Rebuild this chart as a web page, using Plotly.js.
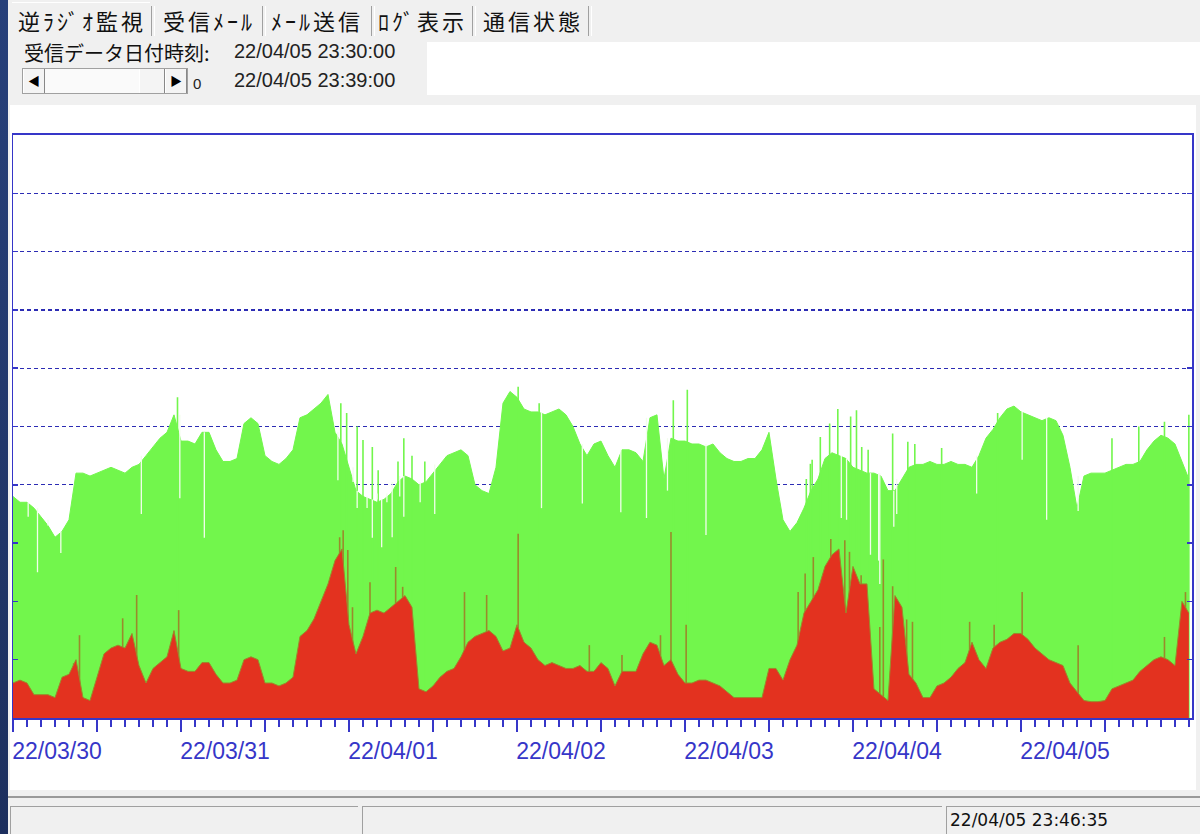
<!DOCTYPE html>
<html><head><meta charset="utf-8">
<script src="https://cdn.plot.ly/plotly-3.0.1.min.js"></script>
<style>
html,body{margin:0;padding:0;}
body{width:1200px;height:834px;overflow:hidden;background:#f0f0f0;position:relative;font-family:"Noto Sans CJK JP","Noto Sans",sans-serif;color:#111;}
.abs{position:absolute;white-space:nowrap;}
#leftstrip{left:0;top:0;width:8px;height:834px;background:linear-gradient(#27407a,#1c2f5e);}
.tab{position:absolute;top:4px;font-size:22px;letter-spacing:3px;line-height:32px;}
.sep{position:absolute;top:6px;width:2px;height:30px;border-left:1px solid #a0a0a0;border-right:1px solid #fff;}
#tabsel{left:12px;top:2px;width:138px;height:36px;background:#f0f0f0;border-top:1px solid #fff;}
.lbl{font-size:20px;}
.tm{font-size:20px;font-family:"Liberation Sans",Arial,sans-serif;color:#222;}
#whitebox{left:427px;top:42px;width:773px;height:53px;background:#fff;}
#scroll{left:22px;top:68px;width:166px;height:26px;background:#fafafa;border:1px solid #a0a0a0;box-sizing:border-box;}
.sbtn{position:absolute;top:0;width:22px;height:24px;background:#f4f4f4;border-left:1px solid #fff;border-right:1px solid #888;box-sizing:border-box;font-size:12px;text-align:center;line-height:24px;color:#000;}
#panel{left:10px;top:105px;width:1186px;height:685px;background:#fff;}
#chart{left:10px;top:105px;width:1186px;height:685px;}
.sb{position:absolute;top:806px;height:30px;border-top:1px solid #a0a0a0;border-left:1px solid #a0a0a0;background:#f0f0f0;box-sizing:border-box;}
</style></head>
<body>
<div id="leftstrip" class="abs"></div>
<div id="tabsel" class="abs"></div>
<div class="tab" style="left:18px;">逆ﾗｼﾞｵ監視</div>
<div class="sep" style="left:151px;"></div>
<div class="tab" style="left:163px;">受信ﾒｰﾙ</div>
<div class="sep" style="left:262px;"></div>
<div class="tab" style="left:271px;">ﾒｰﾙ送信</div>
<div class="sep" style="left:371px;"></div>
<div class="tab" style="left:378px;">ﾛｸﾞ表示</div>
<div class="sep" style="left:472px;"></div>
<div class="tab" style="left:483px;">通信状態</div>
<div class="sep" style="left:588px;"></div>
<div class="abs lbl" style="left:24px;top:38px;">受信データ日付時刻:</div>
<div class="abs tm" style="left:234px;top:40px;">22/04/05 23:30:00</div>
<div id="whitebox" class="abs"></div>
<div id="scroll" class="abs">
  <div class="sbtn" style="left:0;">&#9664;</div>
  <div class="sbtn" style="left:116px;width:26px;border-left:1px solid #fff;"></div>
  <div class="sbtn" style="left:142px;">&#9654;</div>
</div>
<div class="abs tm" style="left:193px;top:75px;font-size:15px;">0</div>
<div class="abs tm" style="left:234px;top:69px;">22/04/05 23:39:00</div>
<div id="panel" class="abs"></div>
<div id="chart" class="abs"></div>
<div class="abs" style="left:8px;top:796px;width:1192px;height:3px;border-top:2px solid #9a9a9a;"></div>
<div class="sb" style="left:10px;width:348px;"></div>
<div class="sb" style="left:362px;width:580px;"></div>
<div class="sb" style="left:946px;width:254px;"></div>
<div class="abs" style="left:950px;top:810px;font-size:17px;font-family:'DejaVu Sans',sans-serif;color:#111;">22/04/05 23:46:35</div>
<script>
// ---- data (hourly readings) ----
var days = ['2022-03-30','2022-03-31','2022-04-01','2022-04-02','2022-04-03','2022-04-04','2022-04-05'];
var dayLabels = ['22/03/30','22/03/31','22/04/01','22/04/02','22/04/03','22/04/04','22/04/05'];

// total (green top) per hour
var totalMar30 = [3.8,3.7,3.7,3.6,3.45,3.3,3.1,3.2,3.4,4.2,4.2,4.15,4.2,4.25,4.3,4.25,4.2,4.3,4.35,4.5,4.65,4.8,4.9,5.2];
var totalMar31 = [4.75,4.75,4.7,4.9,4.9,4.6,4.4,4.4,4.45,5.05,5.15,5.05,4.5,4.4,4.35,4.45,4.6,5.15,5.2,5.3,5.4,5.55,4.9,4.7];
var totalApr01 = [4.3,3.9,3.8,3.75,3.7,3.75,3.85,4.05,4.15,4.1,4.0,4.05,4.2,4.35,4.5,4.55,4.6,4.5,4.0,3.9,3.85,4.3,5.4,5.6];
var totalApr02 = [5.5,5.3,5.25,5.25,5.2,5.25,5.3,5.2,5.0,4.7,4.5,4.7,4.75,4.5,4.3,4.6,4.6,4.55,4.4,5.15,5.2,4.1,4.8,4.75];
var totalApr03 = [4.75,4.7,4.7,4.65,4.7,4.55,4.45,4.4,4.4,4.45,4.45,4.6,4.9,4.1,3.4,3.2,3.35,3.6,3.9,4.1,4.45,4.55,4.5,4.45];
var totalApr04 = [4.3,4.25,4.2,4.2,4.15,3.9,3.9,4.1,4.3,4.35,4.35,4.4,4.35,4.35,4.4,4.35,4.35,4.3,4.5,4.8,4.95,5.15,5.3,5.35];
var totalApr05 = [5.25,5.2,5.15,5.1,5.15,5.1,4.85,4.3,3.6,4.15,4.2,4.2,4.2,4.25,4.3,4.35,4.35,4.4,4.6,4.75,4.85,4.8,4.7,4.4];

// red part per hour
var redMar30 = [0.6,0.65,0.6,0.4,0.4,0.4,0.35,0.7,0.75,1.0,0.35,0.3,0.7,1.1,1.2,1.25,1.2,1.45,0.9,0.6,0.85,0.95,1.05,1.5];
var redMar31 = [0.85,0.8,0.8,0.95,0.95,0.75,0.6,0.6,0.65,1.0,1.05,1.0,0.6,0.6,0.55,0.6,0.7,1.4,1.5,1.7,2.0,2.3,2.7,2.9];
var redApr01 = [1.6,1.1,1.4,1.8,1.85,1.8,1.9,2.0,2.1,1.9,0.5,0.45,0.55,0.7,0.8,0.85,1.05,1.3,1.4,1.45,1.5,1.4,1.15,1.2];
var redApr02 = [1.6,1.3,1.2,1.0,0.9,0.95,0.9,0.85,0.85,0.9,0.8,0.8,0.95,0.85,0.55,0.8,0.8,0.8,1.1,1.3,1.25,0.9,1.0,0.75];
var redApr03 = [0.6,0.6,0.65,0.65,0.6,0.55,0.45,0.35,0.35,0.35,0.35,0.35,0.85,0.85,0.65,1.0,1.25,1.8,2.0,2.2,2.6,2.8,2.9,1.8];
var redApr04 = [2.6,2.3,2.3,0.5,0.4,0.3,2.1,1.9,0.75,0.6,0.35,0.35,0.55,0.6,0.7,0.85,0.95,1.3,1.0,0.85,1.2,1.3,1.35,1.45];
var redApr05 = [1.45,1.35,1.2,1.1,1.0,0.95,0.9,0.6,0.45,0.3,0.28,0.28,0.3,0.5,0.55,0.6,0.65,0.8,0.9,1.0,1.05,1.0,0.9,2.0];

// last sample
var lastTime = '2022-04-05 23:59';
var lastTotal = 4.1;
var lastRed = 1.8;

// short single-sample peaks of the total
var totalPeakTimes = ['2022-03-30 23:30','2022-03-31 22:50','2022-03-31 23:40','2022-04-01 01:10','2022-04-01 02:00','2022-04-01 03:20','2022-04-01 04:10','2022-04-01 07:00','2022-04-01 07:50','2022-04-01 09:00','2022-04-01 10:50','2022-04-02 00:10','2022-04-02 03:10','2022-04-02 22:20','2022-04-03 00:20','2022-04-03 17:20','2022-04-03 17:55','2022-04-03 18:10','2022-04-03 19:20','2022-04-03 20:40','2022-04-03 21:50','2022-04-03 23:40','2022-04-04 00:30','2022-04-04 01:15','2022-04-04 02:10','2022-04-04 05:40','2022-04-04 07:50','2022-04-04 08:50','2022-04-04 12:40','2022-04-04 20:40','2022-04-05 13:00','2022-04-05 16:50','2022-04-05 20:30','2022-04-05 23:59'];
var totalPeakValues = [5.5,5.4,5.23,5.0,4.77,4.65,4.25,4.4,4.8,4.5,4.4,5.68,5.4,5.45,5.63,4.1,4.36,4.43,4.82,5.05,5.3,5.17,5.28,4.65,4.6,4.88,4.74,4.7,4.63,5.23,4.8,5.0,5.08,5.2];

// short single-sample drops of the total
var totalDropTimes = ['2022-03-30 02:10','2022-03-30 03:30','2022-03-30 05:00','2022-03-30 06:50','2022-03-30 18:20','2022-03-30 23:50','2022-03-31 03:20','2022-03-31 22:25','2022-04-01 00:35','2022-04-01 01:10','2022-04-01 02:35','2022-04-01 03:20','2022-04-01 04:00','2022-04-01 04:40','2022-04-01 05:25','2022-04-01 06:10','2022-04-01 07:15','2022-04-01 07:50','2022-04-01 10:10','2022-04-01 12:15','2022-04-02 03:30','2022-04-02 09:20','2022-04-02 14:50','2022-04-02 18:30','2022-04-02 21:30','2022-04-03 03:00','2022-04-03 22:20','2022-04-03 23:05','2022-04-04 02:30','2022-04-04 03:40','2022-04-04 03:50','2022-04-04 05:50','2022-04-04 06:15','2022-04-04 17:40','2022-04-05 00:10','2022-04-05 03:40','2022-04-05 08:10'];
var totalDropValues = [3.45,2.5,3.4,2.83,3.5,3.77,3.09,4.08,4.05,3.6,3.6,3.09,3.85,2.93,3.7,3.1,3.8,3.45,3.7,3.5,3.6,3.68,3.53,3.43,3.9,3.14,3.43,3.4,2.8,2.7,2.3,3.28,3.5,3.85,4.43,3.4,3.55];

// short single-sample peaks of the red part
var redPeakTimes = ['2022-03-30 08:40','2022-03-30 09:30','2022-03-30 12:40','2022-03-30 15:40','2022-03-30 17:40','2022-03-30 23:40','2022-03-31 22:40','2022-03-31 23:10','2022-03-31 23:50','2022-04-01 00:30','2022-04-01 03:00','2022-04-01 06:40','2022-04-01 07:40','2022-04-01 16:30','2022-04-01 19:40','2022-04-02 00:10','2022-04-02 10:20','2022-04-02 15:00','2022-04-02 20:30','2022-04-02 22:00','2022-04-03 00:10','2022-04-03 16:10','2022-04-03 17:10','2022-04-03 18:20','2022-04-03 20:50','2022-04-03 22:50','2022-04-03 23:30','2022-04-04 01:10','2022-04-04 03:50','2022-04-04 04:20','2022-04-04 05:40','2022-04-04 07:40','2022-04-04 08:30','2022-04-04 16:40','2022-04-04 20:10','2022-04-05 00:10','2022-04-05 08:10','2022-04-05 20:30','2022-04-05 23:30'];
var redPeakValues = [0.94,1.42,0.93,1.71,2.11,1.85,3.1,3.22,2.88,1.9,2.33,2.59,2.25,2.16,2.11,3.16,1.25,1.08,1.42,3.19,1.6,2.16,2.48,2.76,3.07,3.05,2.85,2.45,1.56,2.72,2.26,1.69,1.65,1.65,1.6,2.16,1.25,1.39,2.16];

var xRange = ['2022-03-30 00:00','2022-04-06 00:26'];

// ---- build traces ----
var totalDays = [totalMar30,totalMar31,totalApr01,totalApr02,totalApr03,totalApr04,totalApr05];
var redDays = [redMar30,redMar31,redApr01,redApr02,redApr03,redApr04,redApr05];
function pad(n){return (n<10?'0':'')+n;}
var xs=[], tot=[], red=[];
days.forEach(function(d,i){
  totalDays[i].forEach(function(v,h){ xs.push(d+' '+pad(h)+':00'); tot.push(v); red.push(redDays[i][h]); });
});
xs.push(lastTime); tot.push(lastTotal); red.push(lastRed);

var t0 = Date.parse(days[0]+'T00:00:00Z');
function hourIndex(t){ return Math.floor((Date.parse(t.replace(' ','T')+':00Z')-t0)/3600000); }
function envelopeAt(t){ var h=hourIndex(t); var a=tot[h], b=tot[Math.min(h+1,tot.length-1)]; return Math.max(a,b); }

function spikes(times, bases, tops){
  var x=[], y=[];
  times.forEach(function(t,i){ x.push(t,t,null); y.push(bases[i], tops[i], null); });
  return {x:x, y:y};
}
var tickvals=[], ticktext=[];
days.forEach(function(d,i){ tickvals.push(d+' 00:00'); ticktext.push(dayLabels[i]); tickvals.push(d+' 12:00'); ticktext.push(''); });

var BLUE='#3636c8';
var GREEN='#72f64c', RED='#e3321f', OLIVE='#9a8a2c';
var gp = spikes(totalPeakTimes, totalPeakTimes.map(function(){return 0;}), totalPeakValues);
var dp = spikes(totalDropTimes, totalDropValues, totalDropTimes.map(envelopeAt));
var rp = spikes(redPeakTimes, redPeakTimes.map(function(){return 0;}), redPeakValues);
var traces=[
  {type:'scatter', mode:'lines', x:xs, y:tot, fill:'tozeroy', fillcolor:GREEN, line:{color:GREEN, width:1}, hoverinfo:'skip'},
  {type:'scatter', mode:'lines', x:gp.x, y:gp.y, line:{color:GREEN, width:1.6}, connectgaps:false, hoverinfo:'skip'},
  {type:'scatter', mode:'lines', x:dp.x, y:dp.y, line:{color:'#f2fdec', width:1.3}, connectgaps:false, hoverinfo:'skip'},
  {type:'scatter', mode:'lines', x:rp.x, y:rp.y, line:{color:OLIVE, width:1.6}, connectgaps:false, hoverinfo:'skip'},
  {type:'scatter', mode:'lines', x:xs, y:red, fill:'tozeroy', fillcolor:RED, line:{color:OLIVE, width:1}, hoverinfo:'skip'}
];
var layout={
  width:1186, height:685,
  margin:{l:3, r:4, t:30, b:72, pad:0},
  paper_bgcolor:'#ffffff', plot_bgcolor:'#ffffff',
  showlegend:false,
  xaxis:{type:'date', range:xRange, tickmode:'array', tickvals:tickvals, ticktext:ticktext,
    ticks:'outside', ticklen:12, tickwidth:2, tickcolor:BLUE,
    minor:{tickmode:'linear', tick0:'2022-03-30', dtick:7200000, ticks:'outside', ticklen:7, tickwidth:1.5, tickcolor:BLUE, showgrid:false},
    showline:true, linecolor:BLUE, linewidth:2, mirror:true, showgrid:false, zeroline:false,
    tickfont:{family:'Liberation Sans, Arial, sans-serif', size:23, color:BLUE},
    ticklabelshift:44, ticklabelstandoff:-1, fixedrange:true},
  yaxis:{range:[0,10], tickmode:'linear', tick0:0, dtick:1, showticklabels:false,
    ticks:'inside', ticklen:5, tickcolor:BLUE, tickwidth:1.5,
    showline:true, linecolor:BLUE, linewidth:1.5, mirror:'ticks',
    showgrid:true, gridcolor:'#2c2cb4', gridwidth:1.3, griddash:'4px,3px', zeroline:false, fixedrange:true}
};
Plotly.newPlot('chart', traces, layout, {staticPlot:true, displayModeBar:false});
</script>
</body></html>
